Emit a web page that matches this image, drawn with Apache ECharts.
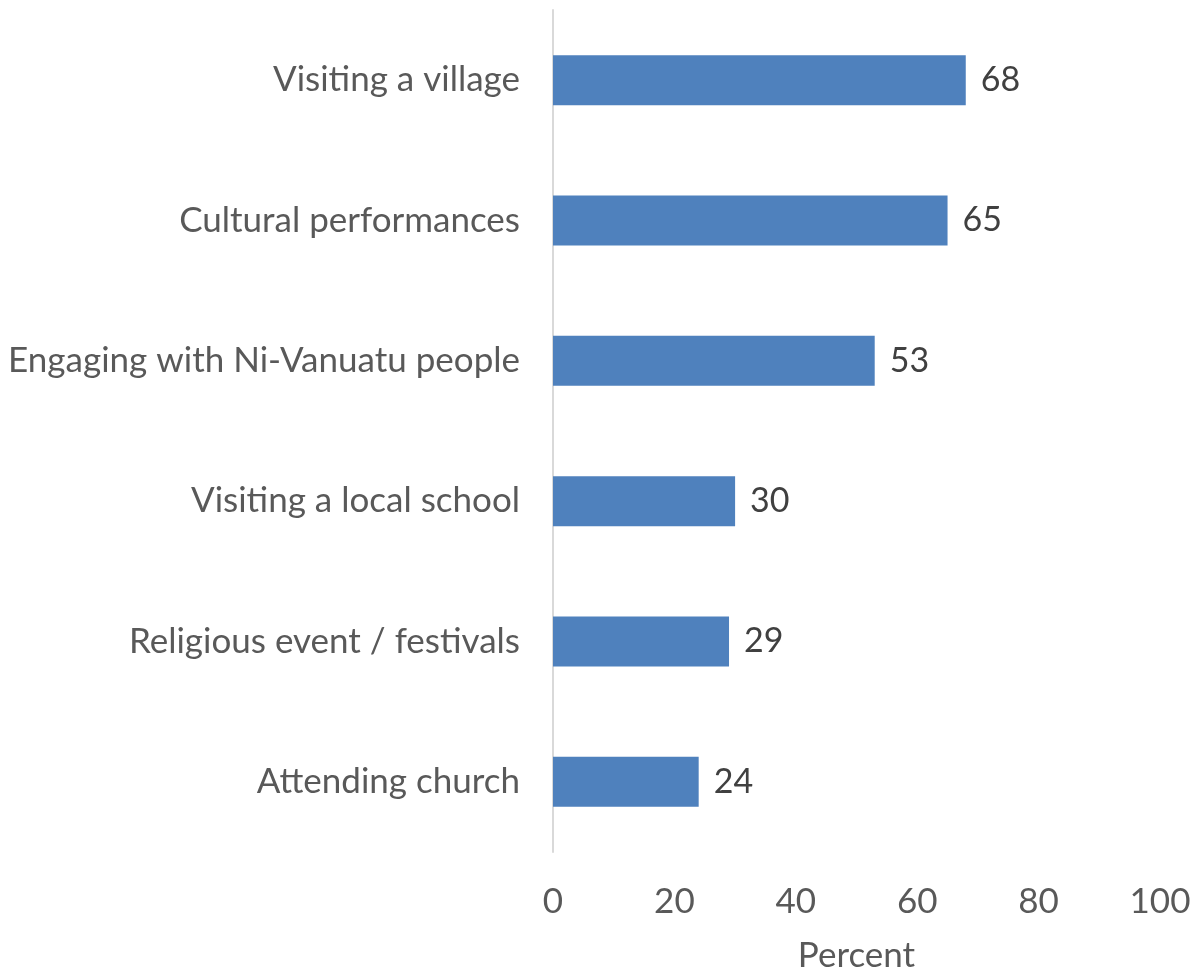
<!DOCTYPE html>
<html>
<head>
<meta charset="utf-8">
<script src="https://cdn.jsdelivr.net/npm/echarts@6/dist/echarts.min.js"></script>
<style>
  html, body { margin: 0; padding: 0; background: #fff; }
  #chart { width: 1194px; height: 971px; }
</style>
</head>
<body>
<div id="chart"></div>
<script>
// Activities, listed bottom to top as the category axis draws them
const categories = [
  'Attending church',
  'Religious event / festivals',
  'Visiting a local school',
  'Engaging with Ni-Vanuatu people',
  'Cultural performances',
  'Visiting a village'
];
const percentValues = [24, 29, 30, 53, 65, 68];
const axisTicks = [0, 20, 40, 60, 80, 100];

const FONT = 'Lato, "Open Sans", sans-serif';

const chart = echarts.init(document.getElementById('chart'), null, { renderer: 'canvas' });
chart.setOption({
  animation: false,
  grid: {
    left: 553, right: 34, top: 10, bottom: 119,
    containLabel: false,
    outerBoundsMode: 'none'
  },
  xAxis: {
    type: 'value',
    min: axisTicks[0],
    max: axisTicks[axisTicks.length - 1],
    interval: axisTicks[1] - axisTicks[0],
    name: 'Percent',
    nameLocation: 'middle',
    nameGap: 86,
    nameMoveOverlap: false,
    nameTextStyle: { fontFamily: FONT, fontSize: 35, color: '#595959' },
    axisLine: { show: false },
    axisTick: { show: false },
    splitLine: { show: false },
    axisLabel: { fontFamily: FONT, fontSize: 35, color: '#595959', margin: 32 }
  },
  yAxis: {
    type: 'category',
    data: categories,
    axisLine: { show: true, lineStyle: { color: '#d9d9d9', width: 2 } },
    axisTick: { show: false },
    axisLabel: { fontFamily: FONT, fontSize: 35, color: '#595959', margin: 33 }
  },
  series: [{
    type: 'bar',
    data: percentValues,
    barWidth: 50,
    itemStyle: { color: '#4f81bd' },
    label: {
      show: true,
      position: 'right',
      distance: 15,
      fontFamily: FONT,
      fontSize: 34,
      color: '#404040'
    }
  }]
});
</script>
</body>
</html>
